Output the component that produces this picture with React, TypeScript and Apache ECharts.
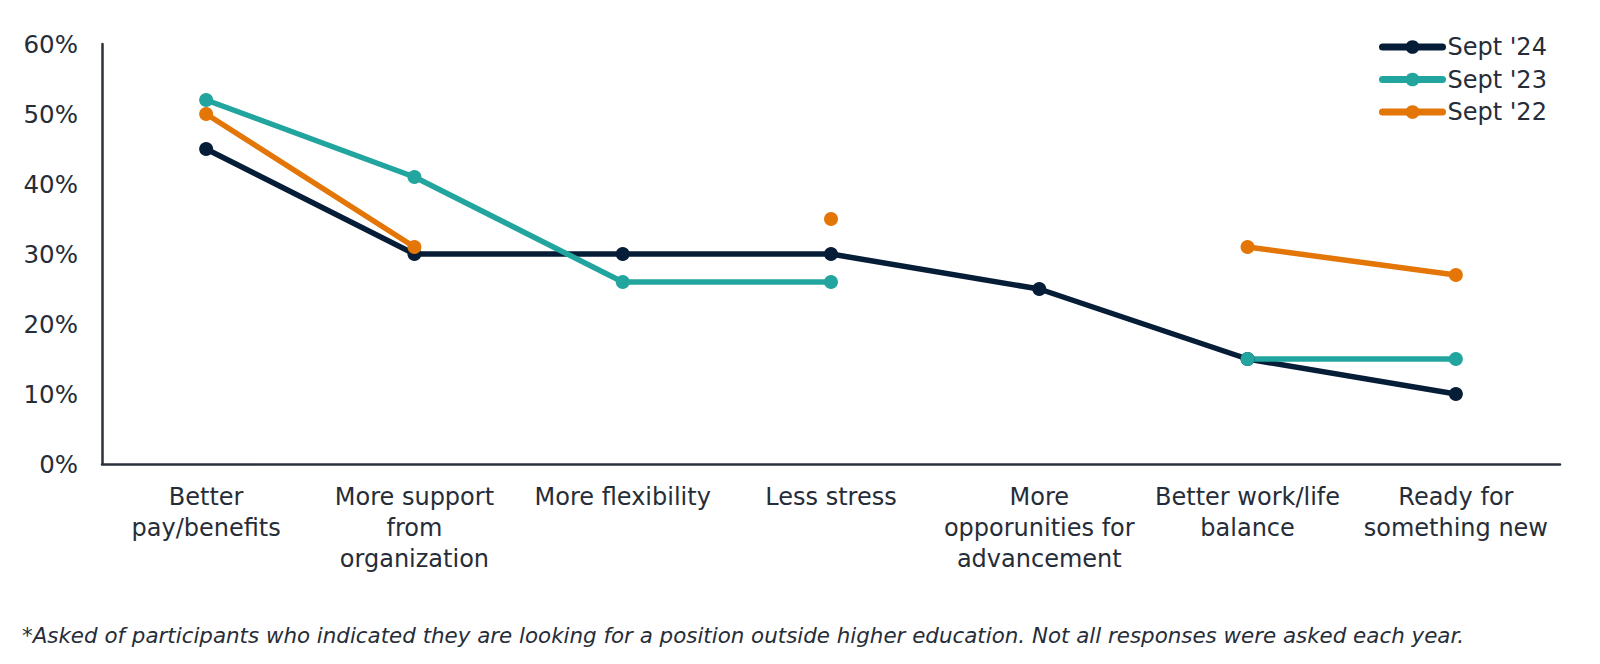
import React, { useEffect, useRef } from "react";
import * as echarts from "echarts";

const categories = [
  "Better\npay/benefits",
  "More support\nfrom\norganization",
  "More flexibility",
  "Less stress",
  "More\nopporunities for\nadvancement",
  "Better work/life\nbalance",
  "Ready for\nsomething new",
];
const seriesNames = ["Sept '24", "Sept '23", "Sept '22"];
const sept24 = [45, 30, 30, 30, 25, 15, 10];
const sept23 = [52, 41, 26, 26, null, 15, 15];
const sept22 = [50, 31, null, 35, null, 31, 27];
const yTicks = { min: 0, max: 60, interval: 10 };
const footnote =
  "*Asked of participants who indicated they are looking for a position outside higher education. Not all responses were asked each year.";

const colors = ["#061d38", "#22a59f", "#e37606"];
const textColor = "#262d38";
const axisColor = "#2a313b";
const font = "'DejaVu Sans', Verdana, sans-serif";

export default function App() {
  const ref = useRef<HTMLDivElement>(null);
  useEffect(() => {
    document.body.style.margin = "0";
    const chart = echarts.init(ref.current!, null, { renderer: "svg" });
    const values = [sept24, sept23, sept22];
    chart.setOption({
      animation: false,
      textStyle: { fontFamily: font, color: textColor },
      grid: { left: 102, right: 40, top: 44, bottom: 200, containLabel: false },
      legend: {
        orient: "vertical",
        left: 1374,
        top: 30,
        itemWidth: 60,
        itemHeight: 17,
        itemGap: 8.5,
        data: seriesNames,
        lineStyle: { width: 7, cap: "round" },
        textStyle: { fontFamily: font, fontSize: 24, color: textColor },
      },
      xAxis: {
        type: "category",
        data: categories,
        boundaryGap: true,
        axisLine: { show: true, lineStyle: { color: axisColor, width: 2.5 } },
        axisTick: { show: false },
        axisLabel: {
          interval: 0,
          margin: 17,
          fontFamily: font,
          fontSize: 24,
          lineHeight: 31,
          color: textColor,
        },
      },
      yAxis: {
        type: "value",
        min: yTicks.min,
        max: yTicks.max,
        interval: yTicks.interval,
        axisLine: { show: true, lineStyle: { color: axisColor, width: 2.5 } },
        axisTick: { show: false },
        splitLine: { show: false },
        axisLabel: {
          formatter: "{value}%",
          margin: 24,
          fontFamily: font,
          fontSize: 24.5,
          color: textColor,
        },
      },
      series: seriesNames.map((name, i) => ({
        name,
        type: "line",
        data: values[i],
        symbol: "circle",
        symbolSize: 14,
        showSymbol: true,
        connectNulls: false,
        lineStyle: { width: 5.5, color: colors[i] },
        itemStyle: { color: colors[i] },
      })),
      graphic: [
        {
          type: "text",
          x: 22,
          y: 635,
          style: {
            text: footnote,
            fontFamily: font,
            fontStyle: "italic",
            fontSize: 21.4,
            fill: textColor,
            verticalAlign: "middle",
          },
        },
      ],
    });
    return () => chart.dispose();
  }, []);
  return (
    <div
      ref={ref}
      style={{ position: "absolute", left: 0, top: 0, width: 1600, height: 664 }}
    />
  );
}
